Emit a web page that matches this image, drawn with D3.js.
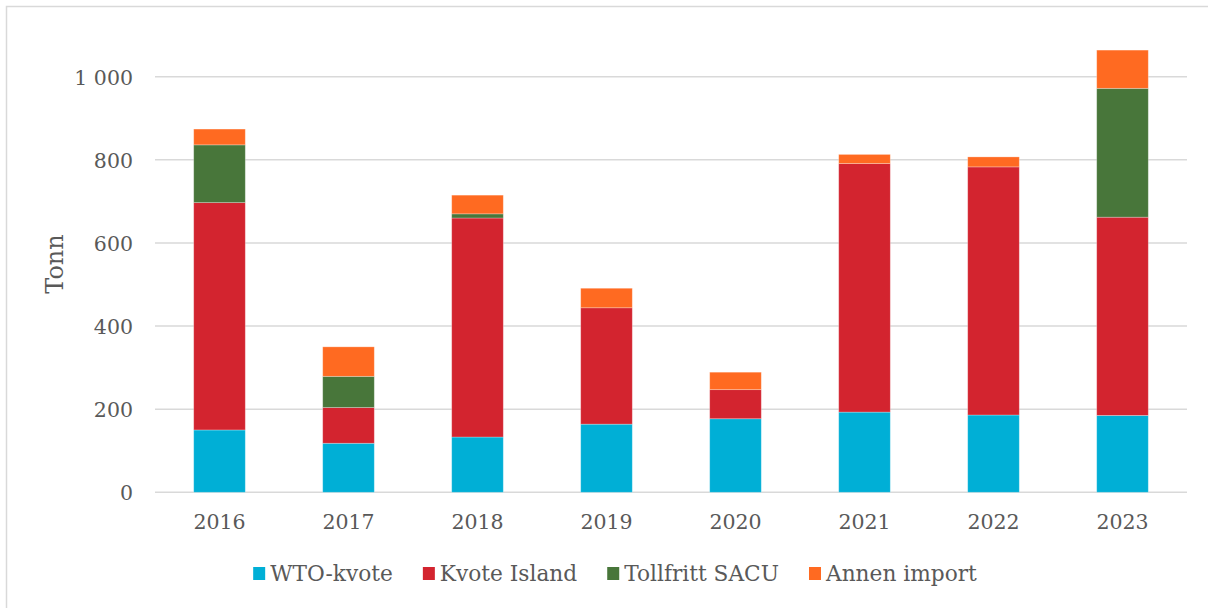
<!DOCTYPE html>
<html>
<head>
<meta charset="utf-8">
<script src="https://cdn.jsdelivr.net/npm/d3@7"></script>
<style>
  body { margin: 0; background: #fff; }
  svg text { font-family: "DejaVu Serif", Georgia, serif; fill: #595959; }
</style>
</head>
<body>
<div id="chart"></div>
<script>
// Data (tonn)
var years = ["2016", "2017", "2018", "2019", "2020", "2021", "2022", "2023"];
var seriesNames = ["WTO-kvote", "Kvote Island", "Tollfritt SACU", "Annen import"];
var wtoKvote = [150, 118, 133, 164, 177, 193, 186, 185];
var kvoteIsland = [547, 86, 527, 280, 70, 598, 597, 477];
var tollfrittSacu = [139, 75, 10, 0, 0, 0, 0, 310];
var annenImport = [38, 71, 45, 47, 42, 22, 24, 92];
var yTicks = [0, 200, 400, 600, 800, 1000];
var colors = ["#00afd6", "#d3242f", "#48763a", "#ff6a21"];

var width = 1208, height = 608;
var margin = { top: 76.7, right: 21, bottom: 115.7, left: 155 };

var svg = d3
  .select("#chart")
  .append("svg")
  .attr("width", width)
  .attr("height", height);

// chart border (right and bottom edges fall outside the picture)
svg
  .append("rect")
  .attr("x", 6.5)
  .attr("y", 6.5)
  .attr("width", width + 20)
  .attr("height", height + 20)
  .attr("fill", "none")
  .attr("stroke", "#d9d9d9")
  .attr("stroke-width", 1.5);

// build table for stacking
var table = years.map(function (yr, i) {
  return {
    year: yr,
    "WTO-kvote": wtoKvote[i],
    "Kvote Island": kvoteIsland[i],
    "Tollfritt SACU": tollfrittSacu[i],
    "Annen import": annenImport[i],
  };
});

var stacked = d3.stack().keys(seriesNames)(table);

var x = d3
  .scaleBand()
  .domain(years)
  .range([margin.left, width - margin.right])
  .paddingInner(0.6)
  .paddingOuter(0.3);

var y = d3
  .scaleLinear()
  .domain([0, 1000])
  .range([height - margin.bottom, margin.top]);

// gridlines
svg
  .append("g")
  .selectAll("line")
  .data(yTicks)
  .join("line")
  .attr("x1", margin.left)
  .attr("x2", width - margin.right)
  .attr("y1", (d) => y(d))
  .attr("y2", (d) => y(d))
  .attr("stroke", "#d9d9d9")
  .attr("stroke-width", 1.5);

// y axis labels
var fmt = function (d) {
  return d >= 1000 ? d3.format(",")(d).replace(",", " ") : String(d);
};
var yAxis = svg
  .append("g")
  .attr("transform", "translate(" + (margin.left - 22) + ",0)")
  .call(d3.axisLeft(y).tickValues(yTicks).tickSize(0).tickPadding(0).tickFormat(fmt));
yAxis.select(".domain").remove();
yAxis
  .selectAll("text")
  .attr("font-family", null)
  .style("font-size", "20.5px")
  .attr("dy", "0.36em");

// bars
svg
  .append("g")
  .selectAll("g")
  .data(stacked)
  .join("g")
  .attr("fill", (d, i) => colors[i])
  .selectAll("rect")
  .data((d) => d)
  .join("rect")
  .attr("x", (d) => x(d.data.year))
  .attr("width", x.bandwidth())
  .attr("y", (d) => y(d[1]))
  .attr("height", (d) => y(d[0]) - y(d[1]))
  .attr("stroke", "rgba(255,255,255,0.35)")
  .attr("stroke-width", 0.8);

// x axis labels
var xAxis = svg
  .append("g")
  .attr("transform", "translate(0," + (height - margin.bottom) + ")")
  .call(d3.axisBottom(x).tickSize(0).tickPadding(22));
xAxis.select(".domain").remove();
xAxis
  .selectAll("text")
  .attr("font-family", null)
  .style("font-size", "20.5px");

// y axis title
svg
  .append("text")
  .attr("transform", "translate(63,264) rotate(-90)")
  .attr("text-anchor", "middle")
  .style("font-size", "24px")
  .text("Tonn");

// legend
var legend = svg.append("g").attr("transform", "translate(0,581)");
var items = legend
  .selectAll("g")
  .data(seriesNames)
  .join("g");
items
  .append("rect")
  .attr("y", -14)
  .attr("width", 12)
  .attr("height", 13)
  .attr("fill", (d, i) => colors[i]);
items
  .append("text")
  .attr("x", 17)
  .style("font-size", "21.7px")
  .text((d) => d);

var gap = 30;
var offsets = [];
var pos = 0;
items.each(function () {
  offsets.push(pos);
  pos += 17 + d3.select(this).select("text").node().getComputedTextLength() + gap;
});
var total = pos - gap;
var startX = 615 - total / 2;
items.attr("transform", (d, i) => "translate(" + (startX + offsets[i]) + ",0)");
</script>
</body>
</html>
